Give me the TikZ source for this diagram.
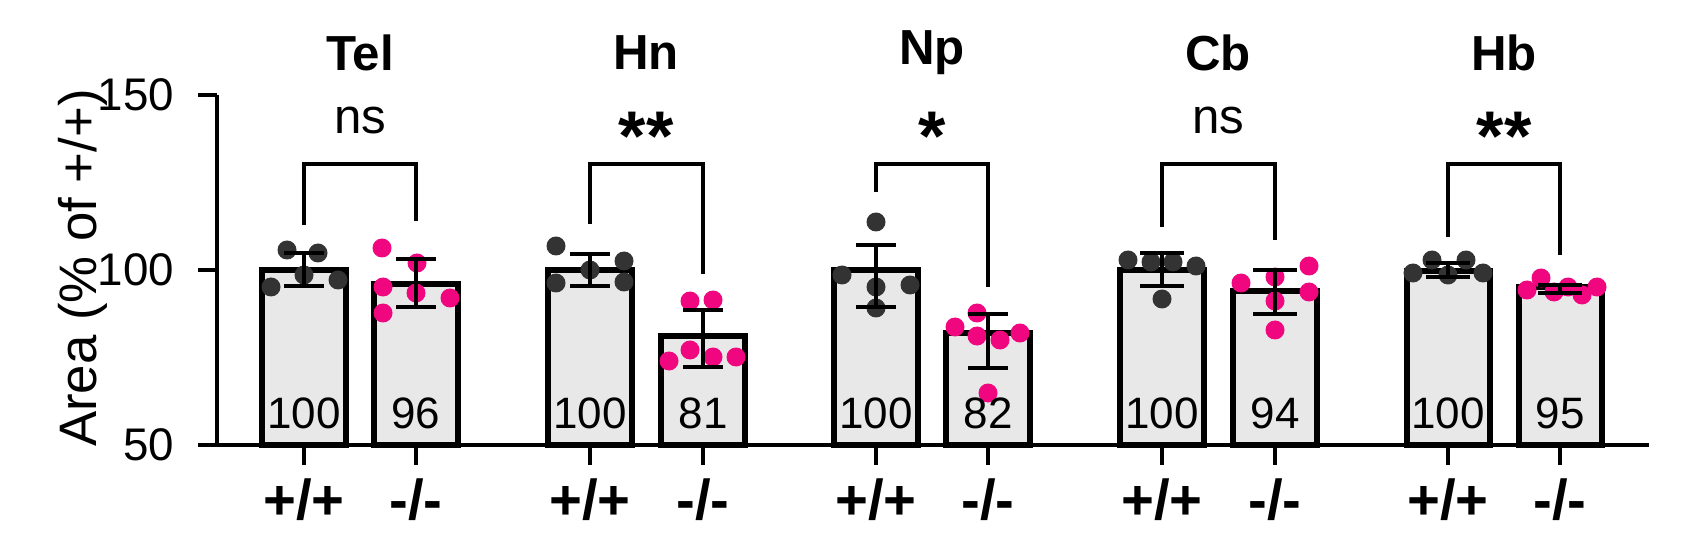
\documentclass[tikz,border=0pt]{standalone}
\usepackage{fontspec}
\setmainfont{Liberation Sans}
\definecolor{pk}{HTML}{F0077F}
\definecolor{dk}{HTML}{333333}
\begin{document}
\begin{tikzpicture}[x=0.01cm,y=-0.01cm,line width=1.3pt,
  bar/.style={draw,line width=1.5pt,fill=gray!18},
  dkd/.style={fill=dk},pkd/.style={fill=pk},
  tick/.style={font=\fontsize{13}{15}\selectfont},
  val/.style={font=\fontsize{12.5}{14}\selectfont},
  ttl/.style={font=\bfseries\fontsize{14}{16}\selectfont},
  ns/.style={font=\fontsize{14}{16}\selectfont},
  star/.style={font=\bfseries\fontsize{20}{20}\selectfont},
  gen/.style={font=\bfseries\fontsize{16}{18}\selectfont}]
\useasboundingbox (0,0) rectangle (1707,534);
% axes
\draw (217,95) -- (217,445) -- (1649,445);
\foreach \yy/\l in {95/150,270/100,445/50}{\draw (198,\yy) -- (217,\yy); \node[tick,anchor=east] (t\l) at (188,\yy) {\l};}
\node[rotate=90,font=\fontsize{15}{17}\selectfont] (ylab) at (83,268) {Area (\% of +/+)};
\def\rr{9.5}
% ---- Tel
\draw[bar] (262,445) rectangle (346,270); \draw[bar] (374,445) rectangle (458,284);
\foreach \p in {(287,250),(318,253),(304,275),(271,287),(338,280)} \fill[dkd] \p circle (\rr);
\foreach \p in {(382,248),(417,263),(383,287),(416,293),(450,298),(383,313)} \fill[pkd] \p circle (\rr);
\draw (304,253)--(304,286) (284,253)--(324,253) (284,286)--(324,286);
\draw (416,259)--(416,307) (396,259)--(436,259) (396,307)--(436,307);
\draw (304,225)--(304,164)--(416,164)--(416,221);
\node[val] at (304,413) {100}; \node[val] at (416,413) {96};
\node[ttl] at (360,53) {Tel}; \node[ns] at (360,120) {ns};
% ---- Hn
\draw[bar] (548,445) rectangle (632,270); \draw[bar] (661,445) rectangle (745,336);
\foreach \p in {(556,246),(624,261),(590,270),(556,283),(624,282)} \fill[dkd] \p circle (\rr);
\foreach \p in {(690,301),(713,300),(669,361),(690,350),(713,357),(736,357)} \fill[pkd] \p circle (\rr);
\draw (590,254)--(590,286) (570,254)--(610,254) (570,286)--(610,286);
\draw (703,310)--(703,367) (683,310)--(723,310) (683,367)--(723,367);
\draw (590,224)--(590,164)--(703,164)--(703,274);
\node[val] at (590,413) {100}; \node[val] at (703,413) {81};
\node[ttl] at (646,53) {Hn}; \node[star] at (646,136) {**};
% ---- Np
\draw[bar] (834,445) rectangle (918,270); \draw[bar] (946,445) rectangle (1030,333);
\foreach \p in {(876,222),(842,275),(876,287),(910,285),(876,308)} \fill[dkd] \p circle (\rr);
\foreach \p in {(955,327),(977,313),(977,336),(1000,340),(1020,333),(988,393)} \fill[pkd] \p circle (\rr);
\draw (876,245)--(876,307) (856,245)--(896,245) (856,307)--(896,307);
\draw (988,314)--(988,368) (968,314)--(1008,314) (968,368)--(1008,368);
\draw (876,192)--(876,164)--(988,164)--(988,287);
\node[val] at (876,413) {100}; \node[val] at (988,413) {82};
\node[ttl] at (932,53) {Np}; \node[star] at (932,136) {*};
% ---- Cb
\draw[bar] (1120,445) rectangle (1204,270); \draw[bar] (1233,445) rectangle (1317,291);
\foreach \p in {(1128,260),(1151,262),(1173,262),(1196,266),(1162,299)} \fill[dkd] \p circle (\rr);
\foreach \p in {(1309,266),(1241,283),(1275,277),(1309,292),(1275,301),(1275,330)} \fill[pkd] \p circle (\rr);
\draw (1162,253)--(1162,286) (1140,253)--(1184,253) (1140,286)--(1184,286);
\draw (1275,270)--(1275,314) (1253,270)--(1297,270) (1253,314)--(1297,314);
\draw (1162,227)--(1162,164)--(1275,164)--(1275,240);
\node[val] at (1162,413) {100}; \node[val] at (1275,413) {94};
\node[ttl] at (1218,53) {Cb}; \node[ns] at (1218,120) {ns};
% ---- Hb
\draw[bar] (1407,445) rectangle (1490,271); \draw[bar] (1519,445) rectangle (1602,287);
\foreach \p in {(1413,273),(1432,260),(1448,275),(1466,260),(1483,273)} \fill[dkd] \p circle (\rr);
\foreach \p in {(1527,290),(1541,278),(1554,292),(1568,287),(1582,295),(1597,287)} \fill[pkd] \p circle (\rr);
\draw (1448,263)--(1448,277) (1426,263)--(1470,263) (1426,277)--(1470,277);
\draw (1560,285)--(1560,293) (1538,285)--(1582,285) (1538,293)--(1582,293);
\draw (1448,237)--(1448,164)--(1560,164)--(1560,255);
\node[val] at (1448,413) {100}; \node[val] at (1560,413) {95};
\node[ttl] at (1504,53) {Hb}; \node[star] at (1504,136) {**};
% x ticks and genotype labels
\foreach \cx in {304,590,876,1162,1448}{\draw (\cx,445)--(\cx,465); \node[gen] at (\cx,500) {+/+};}
\foreach \cx in {416,703,988,1275,1560}{\draw (\cx,445)--(\cx,465); \node[gen] at (\cx,500) {-/-};}
\end{tikzpicture}
\end{document}
